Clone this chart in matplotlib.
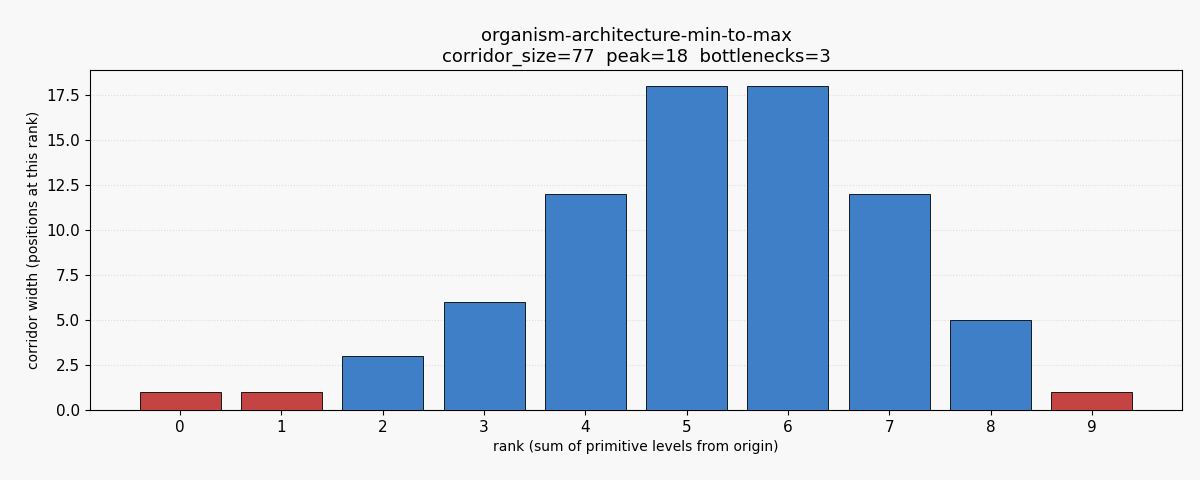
import matplotlib
matplotlib.use("Agg")
import matplotlib.pyplot as plt

ranks = [0, 1, 2, 3, 4, 5, 6, 7, 8, 9]
widths = [1, 1, 3, 6, 12, 18, 18, 12, 5, 1]
bottleneck = [True, True, False, False, False, False, False, False, False, True]

fig = plt.figure(figsize=(12, 4.8), dpi=100, facecolor="#f8f8f8")
ax = fig.add_axes([0.075, 0.146, 0.910, 0.708])
ax.set_facecolor("#f8f8f8")
colors = ["#c44444" if b else "#3f7fc8" for b in bottleneck]
ax.bar(ranks, widths, width=0.8, color=colors, edgecolor="black", linewidth=0.6, zorder=3)
ax.grid(axis="y", linestyle=":", color="#dddddd", linewidth=0.8, zorder=0)
ax.set_xticks(ranks)
ax.set_xlabel("rank (sum of primitive levels from origin)")
ax.set_ylabel("corridor width (positions at this rank)")
ax.set_title("organism-architecture-min-to-max\ncorridor_size=77  peak=18  bottlenecks=3", fontsize=13)
ax.tick_params(labelsize=11)
fig.savefig("out.png", dpi=100, facecolor=fig.get_facecolor())
